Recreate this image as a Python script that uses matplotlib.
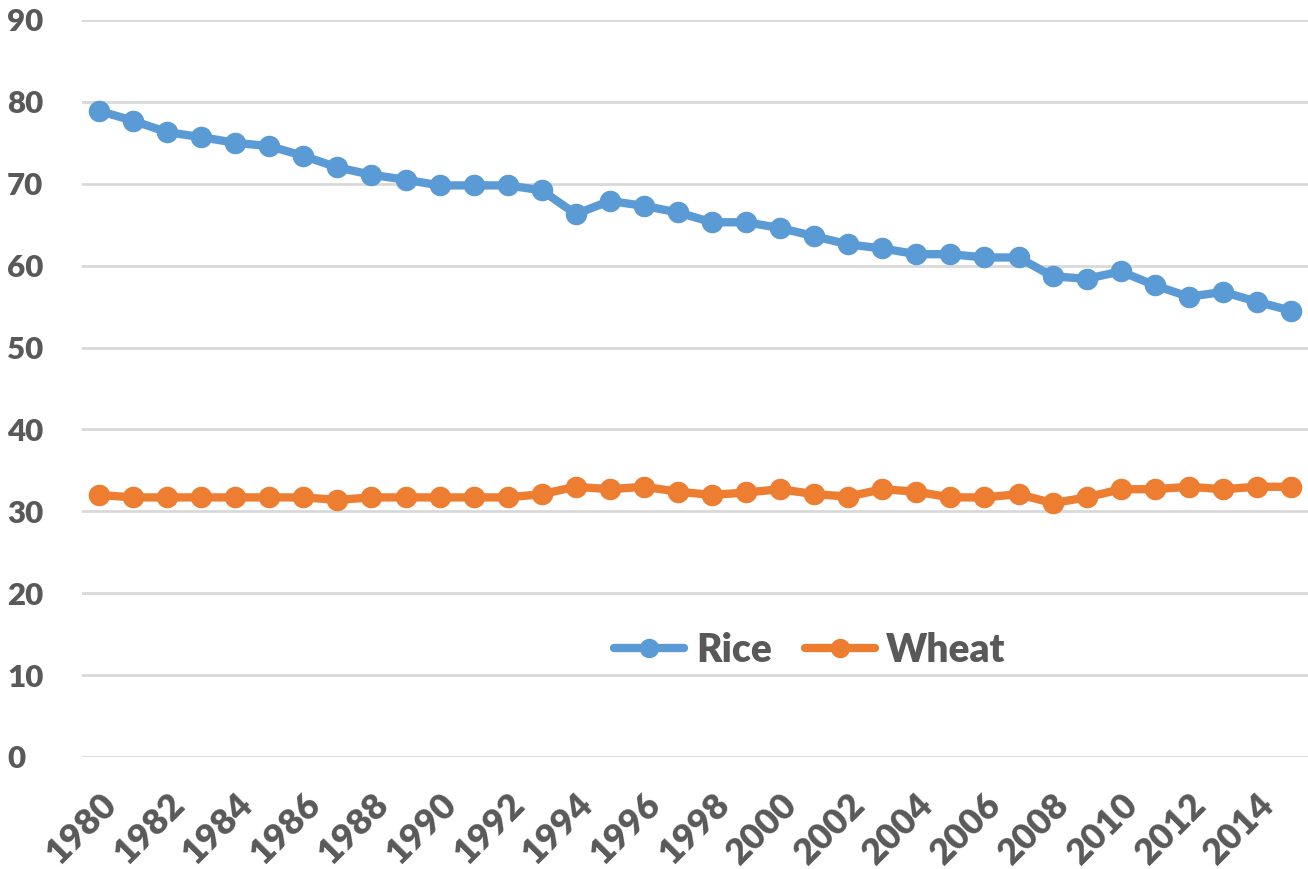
import matplotlib
matplotlib.use("Agg")
from matplotlib import pyplot as plt

# Yearly share values
years = list(range(1980, 2016))
rice = [78.9, 77.7, 76.3, 75.7, 75.0, 74.6, 73.4, 72.0, 71.1, 70.5,
        69.8, 69.8, 69.8, 69.2, 66.3, 67.9, 67.3, 66.5, 65.3, 65.3,
        64.6, 63.6, 62.6, 62.1, 61.4, 61.4, 61.0, 61.0, 58.7, 58.4,
        59.3, 57.6, 56.2, 56.8, 55.6, 54.5]
wheat = [32.0, 31.7, 31.7, 31.7, 31.7, 31.7, 31.7, 31.4, 31.7, 31.7,
         31.7, 31.7, 31.7, 32.1, 33.0, 32.7, 33.0, 32.4, 32.0, 32.3,
         32.7, 32.1, 31.8, 32.7, 32.4, 31.7, 31.7, 32.1, 31.0, 31.7,
         32.7, 32.7, 33.0, 32.7, 33.0, 33.0]
yticks = list(range(0, 100, 10))

plt.rcParams['font.family'] = ['Lato', 'DejaVu Sans']
txt = '#595959'

W, H = 1308, 869
fig = plt.figure(figsize=(W / 100, H / 100), dpi=100)
# plot area in pixels: left 82, right 1308, top 20, bottom 757
ax = fig.add_axes([82 / W, 1 - 757 / H, 1226 / W, 737 / H])

x = list(range(len(years)))
ax.plot(x, rice, color='#5B9BD5', lw=6, marker='o', ms=14.5, label='Rice',
        solid_capstyle='round', zorder=3)
ax.plot(x, wheat, color='#ED7D31', lw=6, marker='o', ms=14.5, label='Wheat',
        solid_capstyle='round', zorder=3)

ax.set_xlim(-0.5, len(years) - 0.5)
ax.set_ylim(0, 90)
ax.set_yticks(yticks)
ax.set_xticks(x[::2])
ax.set_xticklabels([str(y) for y in years[::2]], rotation=45, ha='right',
                   rotation_mode='anchor')
ax.tick_params(axis='both', length=0, labelcolor=txt)
ax.tick_params(axis='y', pad=54, labelsize=22.5)
ax.tick_params(axis='x', pad=22, labelsize=26)
for lbl in ax.get_xticklabels() + ax.get_yticklabels():
    lbl.set_fontweight('heavy')
for lbl in ax.get_yticklabels():
    lbl.set_horizontalalignment('left')

ax.grid(axis='y', color='#D9D9D9', lw=2)
ax.set_axisbelow(True)
for s in ax.spines.values():
    s.set_visible(False)

leg = ax.legend(loc='center', bbox_to_anchor=((810 - 82) / 1226, (757 - 650) / 737),
                bbox_transform=ax.transAxes, ncol=2, frameon=False,
                fontsize=28, handlelength=1.8, columnspacing=0.85, handletextpad=0.3)
for t in leg.get_texts():
    t.set_color(txt)
    t.set_fontweight('heavy')
for h in leg.legend_handles:
    h.set_markersize(13)

fig.savefig('out.png', dpi=100)
